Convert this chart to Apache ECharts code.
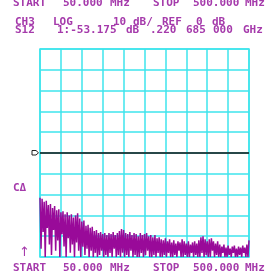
<!DOCTYPE html>
<html>
<head>
<meta charset="utf-8">
<script src="https://cdn.jsdelivr.net/npm/echarts@6/dist/echarts.min.js"></script>
<style>
  html, body { margin: 0; padding: 0; background: #fff; }
  #chart { width: 271px; height: 275px; }
</style>
</head>
<body>
<div id="chart"></div>
<script>
// sweep range, display scale
const startLabel = 'START';
const stopLabel = 'STOP';
const yTicks = [-50, 50, 10];
const sweepPoints = [0, 200, 20];

// S12 trace, dB, one value per sweep point (201 points, peak / trough pairs)
const traceDb = [
    -21.5, -46, -22, -38, -23.5, -50, -23, -36, -25, -44,
    -24.5, -49, -26.5, -37, -25.5, -47, -27.5, -42, -27, -50,
    -28.5, -39, -28, -45, -29.5, -50, -28.5, -41, -30, -48,
    -29.5, -44, -31, -50, -30, -43, -29, -47, -31.5, -50,
    -33, -45, -32.5, -49, -35, -46, -34.5, -50, -36, -47,
    -35.5, -50, -37.5, -48, -37, -50, -38.5, -49, -38, -47,
    -39, -50, -38.5, -49, -39.5, -50, -38.5, -48, -39, -50,
    -38, -46, -39.5, -50, -38.5, -49, -37.5, -50, -36.5, -48,
    -37, -50, -38.5, -49, -39, -50, -38, -47, -39.5, -50,
    -38.5, -49, -39, -50, -40, -50, -38.5, -48, -39.5, -50,
    -39, -49, -38.5, -47, -40, -50, -39.5, -50, -40.5, -49,
    -39.5, -50, -41, -48, -40.5, -50, -41.5, -50, -42, -49,
    -41, -50, -42.5, -48, -41.5, -50, -43, -50, -42, -49,
    -43.5, -50, -42.5, -47, -43, -50, -41.5, -50, -42.5, -49,
    -43.5, -50, -42.5, -50, -44, -48, -43, -50, -42.5, -49,
    -43.5, -50, -42, -50, -40.5, -48, -40, -50, -41.5, -49,
    -42.5, -50, -41.5, -50, -41, -47, -42.5, -50, -43.5, -49,
    -42.5, -50, -44, -50, -45, -48, -44, -50, -45.5, -50,
    -44.5, -49, -46, -50, -45, -48, -44.5, -50, -46, -50,
    -45, -49, -45.5, -50, -44.5, -48, -45.5, -50, -44, -50,
    -42
];

const refLevel = 0;

const textColor = '#a53aab';
const traceColor = '#990a99';
const gridColor = '#3ee4ec';
const font = 'bold 11px "DejaVu Sans Mono", monospace';

function txt(x, y, s, f) {
    return {
        type: 'text',
        x: x,
        y: y,
        style: {
            text: s,
            font: f || font,
            fill: textColor,
            verticalAlign: 'middle'
        },
        silent: true
    };
}

function main() {
    const chart = echarts.init(document.getElementById('chart'));

    const option = {
        animation: false,
        grid: {
            left: 40, top: 49, right: 22, bottom: 18,
            show: true,
            borderColor: gridColor,
            borderWidth: 1.5
        },
        xAxis: {
            type: 'value',
            min: sweepPoints[0], max: sweepPoints[1], interval: sweepPoints[2],
            axisLine: { show: false },
            axisTick: { show: false },
            axisLabel: { show: false },
            splitLine: { show: true, lineStyle: { color: gridColor, width: 1.5 } }
        },
        yAxis: {
            type: 'value',
            min: yTicks[0], max: yTicks[1], interval: yTicks[2],
            axisLine: { show: false },
            axisTick: { show: false },
            axisLabel: { show: false },
            splitLine: { show: true, lineStyle: { color: gridColor, width: 1.5 } }
        },
        series: [{
            type: 'line',
            data: traceDb.map((v, i) => [i, v]),
            showSymbol: false,
            clip: true,
            lineStyle: { color: traceColor, width: 1.5 },
            markLine: {
                silent: true,
                symbol: ['none', 'none'],
                label: { show: false },
                lineStyle: { color: '#111', width: 1.5, type: 'solid' },
                data: [{ yAxis: refLevel }]
            }
        }],
        graphic: [
            // top line (cut off by the window edge)
            txt(13, 3, startLabel),
            txt(63, 3, '50.000'),
            txt(110, 3, 'MHz'),
            txt(153, 3, stopLabel),
            txt(193, 3, '500.000'),
            txt(245, 3, 'MHz'),
            // channel header
            txt(15, 22, 'CH3'),
            txt(53, 22, 'LOG'),
            txt(113, 22, '10'),
            txt(133, 22, 'dB/'),
            txt(162, 22, 'REF'),
            txt(196, 22, '0'),
            txt(212, 22, 'dB'),
            txt(15, 30.5, 'S12'),
            txt(57, 30.5, '1:-53.175'),
            txt(126, 30.5, 'dB'),
            txt(150, 30.5, '.220'),
            txt(186, 30.5, '685'),
            txt(213, 30.5, '000'),
            txt(243, 30.5, 'GHz'),
            // left annotations
            txt(13, 188.5, 'C\u0394'),
            txt(19, 253, '\u2191', '13px "DejaVu Sans", sans-serif'),
            {
                type: 'polygon',
                shape: { points: [[32, 150.5], [36, 150.5], [38.5, 152.8], [36, 155], [32, 155]] },
                style: { fill: 'none', stroke: '#222', lineWidth: 1 },
                silent: true
            },
            // bottom line
            txt(13, 268, startLabel),
            txt(63, 268, '50.000'),
            txt(110, 268, 'MHz'),
            txt(153, 268, stopLabel),
            txt(193, 268, '500.000'),
            txt(245, 268, 'MHz')
        ]
    };

    chart.setOption(option);
}

main();
</script>
</body>
</html>
